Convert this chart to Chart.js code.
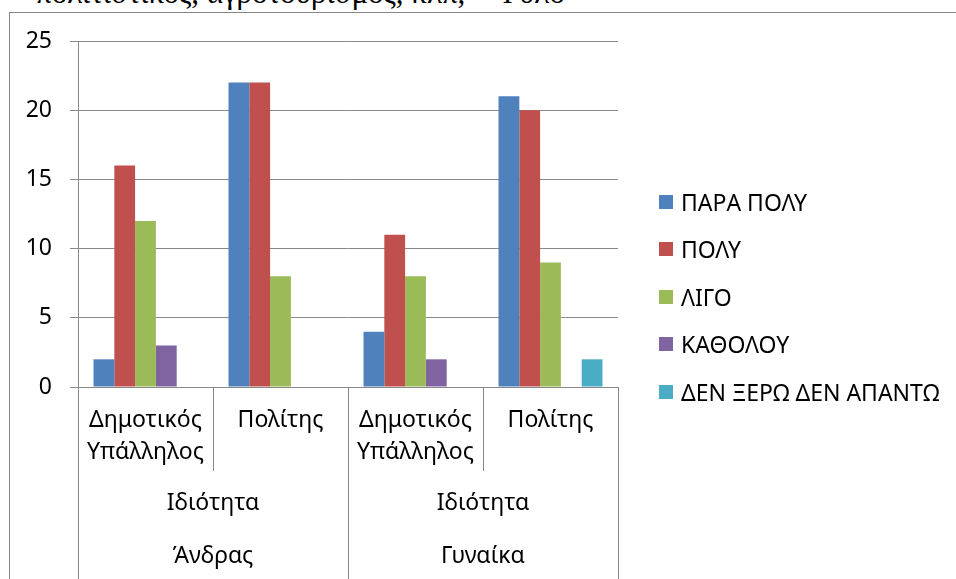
<!DOCTYPE html>
<html lang="el">
<head>
  <meta charset="UTF-8">
  <title>Ιδιότητα - Φύλο</title>
  <script src="https://cdn.jsdelivr.net/npm/chart.js"></script>
  <style>
    body {
      margin: 0;
      width: 956px;
      height: 579px;
      overflow: hidden;
      position: relative;
      background: #fff;
      font-family: 'Noto Sans', sans-serif;
    }

    #caption {
      position: absolute;
      left: 36px;
      top: -23px;
      font-family: 'Liberation Serif', 'DejaVu Serif', serif;
      font-size: 31px;
      line-height: 31px;
      white-space: nowrap;
      color: #000;
    }

    #frame {
      position: absolute;
      left: 9px;
      top: 12px;
      width: 1100px;
      height: 700px;
      border: 1px solid #868686;
      background: #fff;
    }

    #chart {
      position: absolute;
      left: 0;
      top: 0;
    }

    #legend {
      position: absolute;
      left: 659px;
      top: 178px;
      font-size: 23px;
      color: #000;
    }

    .item {
      display: flex;
      align-items: center;
      height: 47.5px;
    }

    .swatch {
      width: 14px;
      height: 14px;
      margin-right: 8px;
    }
  </style>
</head>
<body>
  <div id="caption">πολιτιστικός, αγροτουρισμός, κλπ, – Φύλο</div>
  <div id="frame"></div>
  <canvas id="chart" width="956" height="579"></canvas>
  <div id="legend"></div>

  <script>
    // categories: role, level 2 and gender
    const roles = [['Δημοτικός', 'Υπάλληλος'], ['Πολίτης'], ['Δημοτικός', 'Υπάλληλος'], ['Πολίτης']];
    const groupLabel = 'Ιδιότητα';
    const genders = ['Άνδρας', 'Γυναίκα'];

    const seriesNames = ['ΠΑΡΑ ΠΟΛΥ', 'ΠΟΛΥ', 'ΛΙΓΟ', 'ΚΑΘΟΛΟΥ', 'ΔΕΝ ΞΕΡΩ ΔΕΝ ΑΠΑΝΤΩ'];
    const paraPoly = [2, 22, 4, 21];
    const poly = [16, 22, 11, 20];
    const ligo = [12, 8, 8, 9];
    const katholou = [3, 0, 2, 0];
    const denXero = [0, 0, 0, 2];
    const colors = ['#4F81BD', '#C0504D', '#9BBB59', '#8064A2', '#4BACC6'];

    const yTicks = [0, 5, 10, 15, 20, 25];

    const gridColor = '#898989';
    const labelFont = "23px 'Noto Sans', sans-serif";

    const values = [paraPoly, poly, ligo, katholou, denXero];
    const datasets = seriesNames.map((name, i) => ({
      label: name,
      data: values[i],
      backgroundColor: colors[i],
      borderWidth: 0,
      barPercentage: 1,
      categoryPercentage: 0.77
    }));

    // multi level category labels under the x axis
    const multiLevelLabels = {
      id: 'multiLevelLabels',
      afterDraw(chart) {
        const ctx = chart.ctx;
        const x = chart.scales.x;
        const base = chart.chartArea.bottom;
        const step = (x.right - x.left) / roles.length;

        ctx.save();
        ctx.strokeStyle = gridColor;
        ctx.lineWidth = 1;
        ctx.fillStyle = '#000';
        ctx.font = labelFont;
        ctx.textAlign = 'center';
        ctx.textBaseline = 'middle';

        for (let i = 0; i <= roles.length; i++) {
          const px = Math.round(x.left + i * step) + 0.5;
          const full = i % 2 === 0;
          ctx.beginPath();
          ctx.moveTo(px, base);
          ctx.lineTo(px, full ? 579 : base + 84);
          ctx.stroke();
        }

        roles.forEach((lines, i) => {
          const cx = x.getPixelForValue(i);
          lines.forEach((t, j) => ctx.fillText(t, cx, base + 33 + j * 32));
        });

        genders.forEach((g, k) => {
          const cx = (x.getPixelForValue(2 * k) + x.getPixelForValue(2 * k + 1)) / 2;
          ctx.fillText(groupLabel, cx, base + 116);
          ctx.fillText(g, cx, base + 169);
        });
        ctx.restore();
      }
    };

    const ctx = document.getElementById('chart').getContext('2d');
    const myChart = new Chart(ctx, {
      type: 'bar',
      data: {
        labels: roles.map(r => r.join(' ')),
        datasets: datasets
      },
      options: {
        responsive: false,
        animation: false,
        layout: {
          padding: { left: 0, top: 41, right: 338, bottom: 192 }
        },
        plugins: {
          legend: { display: false },
          tooltip: { enabled: false }
        },
        scales: {
          x: {
            grid: { display: false },
            border: { display: false },
            ticks: { display: false },
            afterFit(scale) { scale.height = 0; }
          },
          y: {
            min: 0,
            max: 25,
            afterFit(scale) { scale.width = 78; },
            afterBuildTicks(scale) { scale.ticks = yTicks.map(v => ({ value: v })); },
            grid: { color: gridColor, tickLength: 8 },
            border: { display: true, color: gridColor },
            ticks: {
              color: '#000',
              padding: 18,
              font: { family: "'Noto Sans', sans-serif", size: 23 }
            }
          }
        }
      },
      plugins: [multiLevelLabels]
    });

    const legend = document.getElementById('legend');
    seriesNames.forEach((name, i) => {
      const item = document.createElement('div');
      item.className = 'item';
      item.innerHTML = '<span class="swatch" style="background:' + colors[i] + '"></span>' + name;
      legend.appendChild(item);
    });
  </script>
</body>
</html>
